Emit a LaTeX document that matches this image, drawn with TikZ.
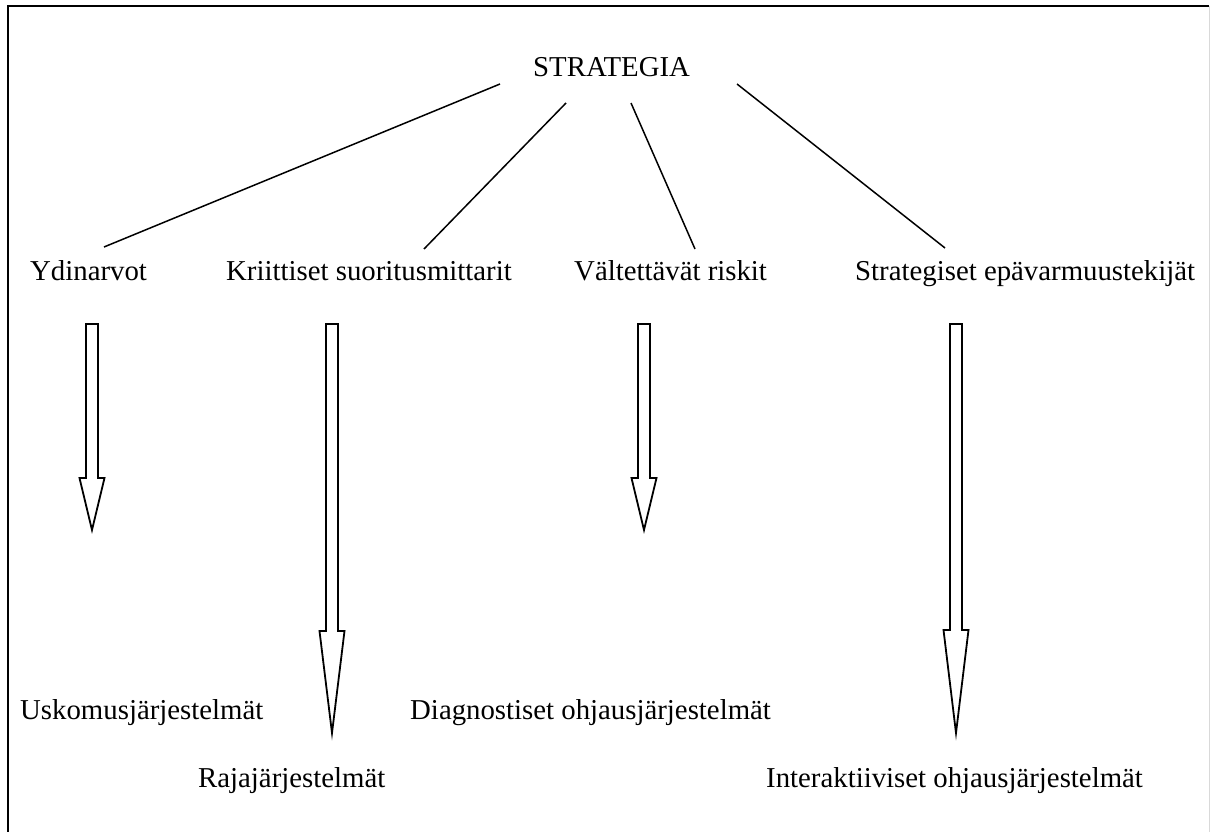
\documentclass[tikz,border=0pt]{standalone}
\usepackage{fontspec}
\setmainfont{Liberation Serif}
\begin{document}
\begin{tikzpicture}[x=1pt,y=-1pt,
  lbl/.style={inner sep=0pt,anchor=base west,font=\fontsize{28.8}{34}\selectfont},
  conn/.style={line width=1.5pt},
  blockarr/.style={line width=1.8pt,line join=miter,fill=white}]
\useasboundingbox (0,0) rectangle (1210,832);
% frame
\draw[line width=2.2pt] (8,840) -- (8,6) -- (1209,6);
\draw[line width=1pt,black!15] (1209,6) -- (1209,840);
% texts
\node[lbl] (strat) at (533,77) {STRATEGIA};
\node[lbl] (ydin) at (30,280) {Ydinarvot};
\node[lbl] (krit) at (226,280) {Kriittiset suoritusmittarit};
\node[lbl] (valt) at (574,280) {Vältettävät riskit};
\node[lbl] (epav) at (855,280) {Strategiset epävarmuustekijät};
\node[lbl] (usko) at (20,719) {Uskomusjärjestelmät};
\node[lbl] (raja) at (198,787) {Rajajärjestelmät};
\node[lbl] (diag) at (410,719) {Diagnostiset ohjausjärjestelmät};
\node[lbl] (inter) at (766,787) {Interaktiiviset ohjausjärjestelmät};
% connector end points
\coordinate (s1) at (500,84);
\coordinate (s2) at (566,103);
\coordinate (s3) at (631,103);
\coordinate (s4) at (737,84);
\coordinate (e1) at (104,247);
\coordinate (e2) at (424,249);
\coordinate (e3) at (695,249);
\coordinate (e4) at (945,248);
\draw[conn] (s1) -- (e1);
\draw[conn] (s2) -- (e2);
\draw[conn] (s3) -- (e3);
\draw[conn] (s4) -- (e4);
% block arrows: center x, top, neck y, tip y
\newcommand\myblockarrow[4]{%
  \draw[blockarr] (#1-6,#2) -- (#1+6,#2) -- (#1+6,#3) -- (#1+12.5,#3)
    -- (#1,#4) -- (#1-12.5,#3) -- (#1-6,#3) -- cycle;}
\myblockarrow{92}{324}{478}{530}
\myblockarrow{332}{324}{631}{733}
\myblockarrow{644}{324}{478}{530}
\myblockarrow{956}{324}{630}{733}
\end{tikzpicture}
\end{document}
